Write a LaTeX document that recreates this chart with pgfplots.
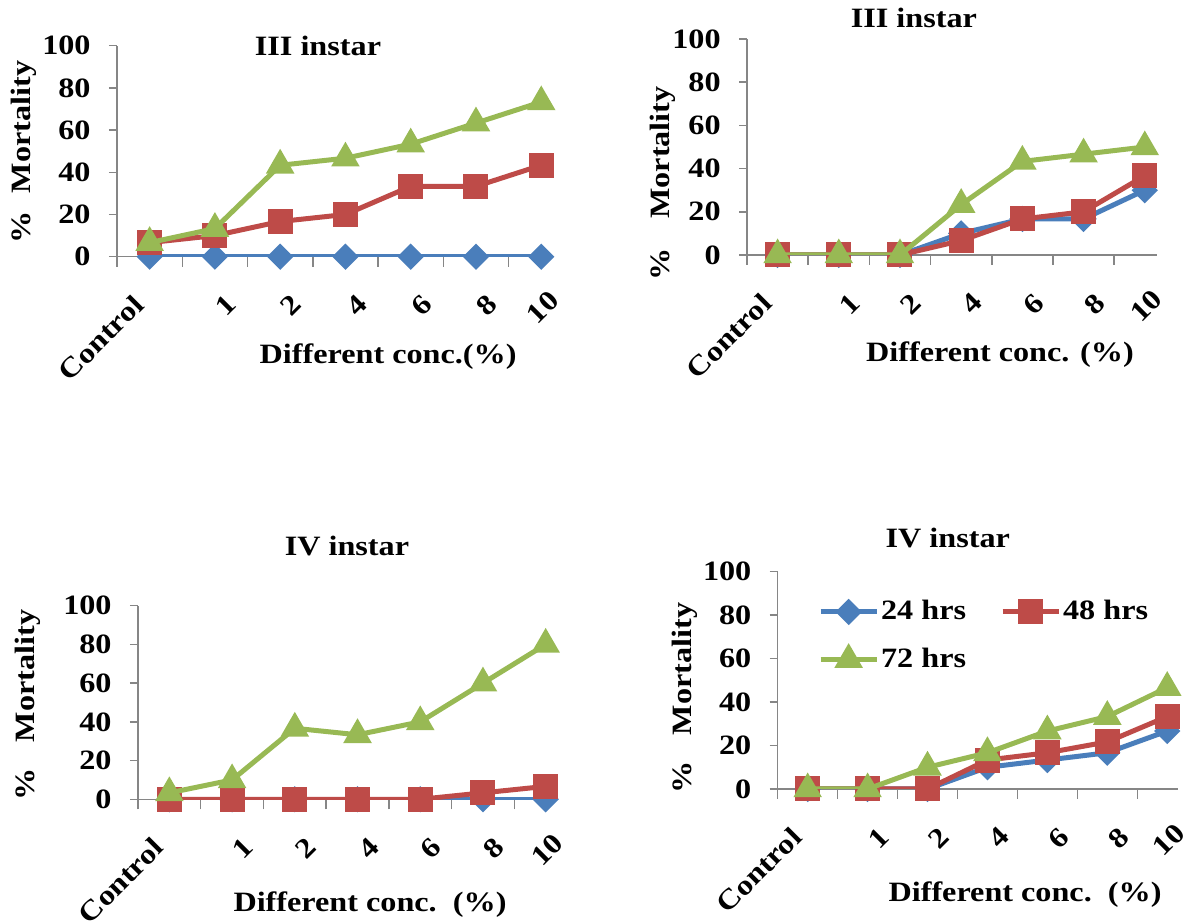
\documentclass[border=0pt]{standalone}
\usepackage{pgfplots}
\pgfplotsset{compat=1.18}
\usepackage{fontspec}
\setmainfont{Liberation Serif}[FakeStretch=1.15]

\definecolor{hrsA}{RGB}{74,126,187}
\definecolor{hrsB}{RGB}{190,75,72}
\definecolor{hrsC}{RGB}{152,185,84}
\definecolor{axgray}{RGB}{134,134,134}

% the last label sits a little further left than the others
\newcommand{\lastlabel}[1]{\raisebox{2.8pt}[\height][\depth]{#1}\hspace{2.8pt}}

\pgfplotsset{
  mortality/.style={
    scale only axis,
    anchor=south west,
    axis lines=left,
    axis line style={-, draw=axgray, line width=0.75pt},
    xmin=-0.5, ymin=0, ymax=100,
    ytick={0,20,40,60,80,100},
    xtick={1,2,3,4,5,6},
    xticklabels={1,2,4,6,8,{\lastlabel{10}}},
    extra x ticks={0},
    extra x tick labels={Control},
    % shift given in the rotated frame of the label: (-14pt,0) on the page
    extra x tick style={xticklabel style={xshift=-9.9pt, yshift=9.9pt}},
    minor xtick={-0.5,0.5,1.5,2.5,3.5,4.5,5.5},
    major x tick style={draw=none},
    tick align=outside,
    tick style={draw=axgray, line width=0.75pt},
    major tick length=4pt,
    minor tick length=5pt,
    /pgf/number format/assume math mode=true,
    xticklabel style={xshift=5pt, yshift=-14pt, rotate=45, anchor=north east, inner sep=0pt},
    yticklabel style={anchor=east, inner sep=0pt, xshift=-9pt},
    every axis title/.style={anchor=center},
    every axis x label/.style={anchor=center},
    every axis y label/.style={anchor=center, rotate=90},
    clip mode=individual,
    every axis plot/.append style={line width=2.5pt},
  },
  h24/.style={draw=hrsA, mark=square*, mark size=3.4pt,
    mark options={rotate=45, draw=none, fill=hrsA}},
  h48/.style={draw=hrsB, mark=square*, mark size=5pt,
    mark options={draw=none, fill=hrsB}},
  h72/.style={draw=hrsC, mark=triangle*, mark size=5.75pt,
    mark options={draw=none, fill=hrsC}},
}

\begin{document}
\fontsize{14pt}{16pt}\selectfont\bfseries
\begin{tikzpicture}
\path[use as bounding box] (0,0) rectangle (591.5pt,462pt);

% III instar, first extract
\begin{axis}[mortality,
  at={(58.5pt,333.65pt)}, width=218pt, height=105.5pt, xmax=6.18,
  title={III instar},
  title style={at={(axis description cs:0.461,1.001)}},
  xlabel={Different conc.(\%)},
  xlabel style={at={(axis description cs:0.622,-0.475)}},
  ylabel={\%\hspace{9pt}Mortality},
  ylabel style={at={(axis description cs:-0.213,0.496)}},
]
\addplot[h24] coordinates {(0,0) (1,0) (2,0) (3,0) (4,0) (5,0) (6,0)};
\addplot[h48] coordinates {(0,6.67) (1,10) (2,16.67) (3,20) (4,33.33) (5,33.33) (6,43.33)};
\addplot[h72] coordinates {(0,6.67) (1,13.33) (2,43.33) (3,46.67) (4,53.33) (5,63.33) (6,73.33)};
\end{axis}

% III instar, second extract
\begin{axis}[mortality,
  at={(373.5pt,334.5pt)}, width=205pt, height=108pt, xmax=6.2,
  title={III instar},
  title style={at={(axis description cs:0.407,1.097)}},
  xlabel={Different conc. (\%)},
  xlabel style={at={(axis description cs:0.617,-0.463)}},
  ylabel={\%\hspace{15pt}Mortality},
  ylabel style={at={(axis description cs:-0.205,0.33)}},
]
\addplot[h24] coordinates {(0,0) (1,0) (2,0) (3,10) (4,16.67) (5,16.67) (6,30)};
\addplot[h48] coordinates {(0,0) (1,0) (2,0) (3,6.67) (4,16.67) (5,20) (6,36.67)};
\addplot[h72] coordinates {(0,0) (1,0) (2,0) (3,23.33) (4,43.33) (5,46.67) (6,50)};
\end{axis}

% IV instar, first extract
\begin{axis}[mortality,
  at={(69pt,62.35pt)}, width=209.8pt, height=96.8pt, xmax=6.19,
  title={IV instar},
  title style={at={(axis description cs:0.498,1.308)}},
  xlabel={Different conc.\ \ (\%)},
  xlabel style={at={(axis description cs:0.553,-0.546)}},
  ylabel={\%\hspace{13pt}Mortality},
  ylabel style={at={(axis description cs:-0.262,0.487)}},
]
\addplot[h24] coordinates {(0,0) (1,0) (2,0) (3,0) (4,0) (5,0) (6,0)};
\addplot[h48] coordinates {(0,0) (1,0) (2,0) (3,0) (4,0) (5,3.33) (6,6.67)};
\addplot[h72] coordinates {(0,3.33) (1,10) (2,36.67) (3,33.33) (4,40) (5,60) (6,80)};
\end{axis}

% IV instar, second extract
\begin{axis}[mortality,
  at={(388.85pt,67.5pt)}, width=200.15pt, height=108.65pt, xmax=6.18,
  title={IV instar},
  title style={at={(axis description cs:0.425,1.155)}},
  xlabel={Different conc.\ \ (\%)},
  xlabel style={at={(axis description cs:0.618,-0.488)}},
  ylabel={\%\hspace{13pt}Mortality},
  ylabel style={at={(axis description cs:-0.232,0.419)}},
  legend columns=2,
  legend style={draw=none, fill=none, inner sep=0pt,
    at={(axis description cs:0.1,0.88)}, anchor=north west,
    row sep=10pt, nodes={inner sep=1pt},
    /tikz/every even column/.append style={column sep=16pt}},
  legend image code/.code={%
    \draw[mark repeat=2, mark phase=2, #1]
      plot coordinates {(0pt,0pt) (14pt,0pt) (28pt,0pt)};},
]
\addplot[h24] coordinates {(0,0) (1,0) (2,0) (3,10) (4,13.33) (5,16.67) (6,26.67)};
\addplot[h48] coordinates {(0,0) (1,0) (2,0) (3,13.33) (4,16.67) (5,21.67) (6,33.33)};
\addplot[h72] coordinates {(0,0) (1,0) (2,10) (3,16.67) (4,26.67) (5,33.33) (6,46.67)};
\legend{24 hrs, 48 hrs, 72 hrs}
\end{axis}
\end{tikzpicture}
\end{document}
